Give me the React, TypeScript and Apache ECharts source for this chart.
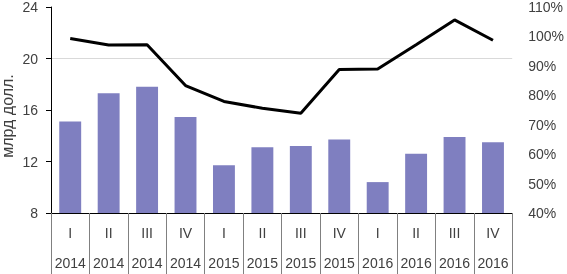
import React, { useEffect, useRef } from "react";
import * as echarts from "echarts";

const quarters = ["I", "II", "III", "IV", "I", "II", "III", "IV", "I", "II", "III", "IV"];
const years = ["2014", "2014", "2014", "2014", "2015", "2015", "2015", "2015", "2016", "2016", "2016", "2016"];
const barValues = [15.1, 17.3, 17.8, 15.45, 11.7, 13.1, 13.2, 13.7, 10.4, 12.6, 13.9, 13.5];
const lineValues = [99.3, 97.1, 97.2, 83.3, 77.9, 75.6, 73.9, 88.8, 88.9, 97.2, 105.6, 98.7];
const leftTicks = { min: 8, max: 24, interval: 4 };
const rightTicks = { min: 40, max: 110, interval: 10 };
const gridValue = 20;
const axisName = "млрд долл.";

export default function App() {
  const ref = useRef<HTMLDivElement>(null);
  useEffect(() => {
    if (!ref.current) return;
    const chart = echarts.init(ref.current, undefined, { renderer: "svg" });
    const font = "Liberation Sans";
    const textColor = "#404040";
    chart.setOption({
      animation: false,
      grid: { left: 51, right: 50, top: 6, bottom: 61, containLabel: false },
      graphic: [
        {
          type: "text",
          x: 7,
          y: 116,
          rotation: Math.PI / 2,
          style: {
            text: axisName,
            fontFamily: font,
            fontSize: 16,
            fill: textColor,
            align: "center",
            verticalAlign: "middle",
          },
        },
      ],
      xAxis: {
        type: "category",
        data: quarters.map((q, i) => q + "|" + years[i]),
        axisLine: { show: true, lineStyle: { color: "#000", width: 1 } },
        axisTick: { show: true, interval: 0, length: 61, lineStyle: { color: "#808080", width: 1 } },
        axisLabel: {
          interval: 0,
          margin: 5,
          formatter: (v: string) => {
            const [q, y] = v.split("|");
            return "{a|" + q + "}\n{b|" + y + "}";
          },
          rich: {
            a: { fontFamily: font, fontSize: 14, color: textColor, lineHeight: 30 },
            b: { fontFamily: font, fontSize: 14, color: textColor, lineHeight: 30 },
          },
        },
        splitLine: { show: false },
      },
      yAxis: [
        {
          type: "value",
          min: leftTicks.min,
          max: leftTicks.max,
          interval: leftTicks.interval,
          axisLine: { show: true, lineStyle: { color: "#000", width: 1 } },
          axisTick: { show: true, length: 5, lineStyle: { color: "#000" } },
          axisLabel: { fontFamily: font, fontSize: 14, color: textColor, margin: 13 },
          splitLine: { show: false },
        },
        {
          type: "value",
          min: rightTicks.min,
          max: rightTicks.max,
          interval: rightTicks.interval,
          position: "right",
          axisLine: { show: false },
          axisTick: { show: false },
          axisLabel: {
            fontFamily: font,
            fontSize: 14,
            color: textColor,
            margin: 16,
            formatter: "{value}%",
          },
          splitLine: { show: false },
        },
      ],
      series: [
        {
          type: "bar",
          data: barValues,
          barWidth: "57%",
          itemStyle: { color: "#7f7fc0" },
          markLine: {
            silent: true,
            symbol: ["none", "none"],
            label: { show: false },
            lineStyle: { color: "#d9d9d9", width: 1, type: "solid" },
            data: [{ yAxis: gridValue }],
            z: 0,
          },
          z: 2,
        },
        {
          type: "line",
          yAxisIndex: 1,
          data: lineValues,
          symbol: "none",
          lineStyle: { color: "#000", width: 3 },
          z: 3,
        },
      ],
    });
    return () => chart.dispose();
  }, []);
  return <div ref={ref} style={{ position: "fixed", left: 0, top: 0, width: 567, height: 274 }} />;
}
